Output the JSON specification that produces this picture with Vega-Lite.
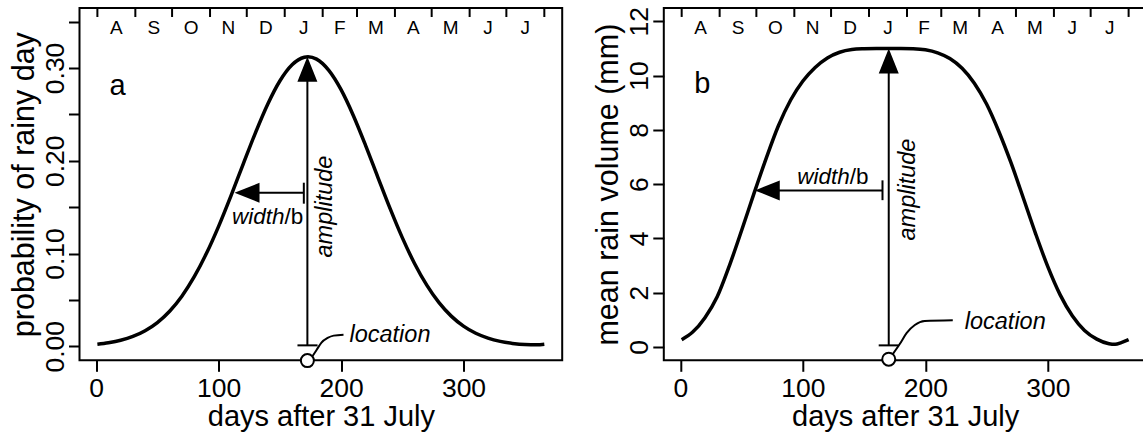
{
  "$schema": "https://vega.github.io/schema/vega-lite/v6.json",
  "padding": {"left": 8.5, "top": 5, "right": 0, "bottom": 0},
  "background": "white",
  "spacing": 101.3,
  "bounds": "flush",
  "datasets": {
    "curveA": [
      {"day": 1, "p": 0.0023}, {"day": 10, "p": 0.0039}, {"day": 20, "p": 0.0065}, {"day": 30, "p": 0.0106},
      {"day": 40, "p": 0.0168}, {"day": 50, "p": 0.0256}, {"day": 60, "p": 0.0378}, {"day": 70, "p": 0.054},
      {"day": 80, "p": 0.0747}, {"day": 90, "p": 0.0999}, {"day": 100, "p": 0.1293}, {"day": 110, "p": 0.1619},
      {"day": 120, "p": 0.1961}, {"day": 130, "p": 0.2298}, {"day": 140, "p": 0.2606}, {"day": 150, "p": 0.2859},
      {"day": 160, "p": 0.3034}, {"day": 170, "p": 0.3115}, {"day": 173, "p": 0.312}, {"day": 180, "p": 0.3095},
      {"day": 190, "p": 0.2974}, {"day": 200, "p": 0.2766}, {"day": 210, "p": 0.2488}, {"day": 220, "p": 0.2166},
      {"day": 230, "p": 0.1824}, {"day": 240, "p": 0.1486}, {"day": 250, "p": 0.1171}, {"day": 260, "p": 0.0893},
      {"day": 270, "p": 0.0659}, {"day": 280, "p": 0.047}, {"day": 290, "p": 0.0325}, {"day": 300, "p": 0.0217},
      {"day": 310, "p": 0.014}, {"day": 320, "p": 0.0088}, {"day": 330, "p": 0.0053}, {"day": 340, "p": 0.0031},
      {"day": 350, "p": 0.0019}, {"day": 360, "p": 0.0017}, {"day": 366, "p": 0.0023}
    ],
    "curveB": [
      {"day": 1, "v": 0.27}, {"day": 10, "v": 0.55}, {"day": 20, "v": 1.08}, {"day": 30, "v": 1.85},
      {"day": 40, "v": 3.0}, {"day": 50, "v": 4.3}, {"day": 60, "v": 5.65}, {"day": 70, "v": 6.95},
      {"day": 80, "v": 8.15}, {"day": 90, "v": 9.1}, {"day": 100, "v": 9.8}, {"day": 110, "v": 10.3},
      {"day": 120, "v": 10.65}, {"day": 130, "v": 10.86}, {"day": 140, "v": 10.96}, {"day": 150, "v": 10.99},
      {"day": 160, "v": 11.0}, {"day": 171, "v": 11.0}, {"day": 180, "v": 11.0}, {"day": 190, "v": 10.99},
      {"day": 200, "v": 10.95}, {"day": 210, "v": 10.84}, {"day": 220, "v": 10.63}, {"day": 230, "v": 10.27},
      {"day": 240, "v": 9.72}, {"day": 250, "v": 8.95}, {"day": 260, "v": 7.94}, {"day": 270, "v": 6.78},
      {"day": 280, "v": 5.49}, {"day": 290, "v": 4.18}, {"day": 300, "v": 2.96}, {"day": 310, "v": 1.93},
      {"day": 320, "v": 1.15}, {"day": 330, "v": 0.61}, {"day": 340, "v": 0.29}, {"day": 350, "v": 0.12},
      {"day": 355, "v": 0.1}, {"day": 360, "v": 0.16}, {"day": 366, "v": 0.27}
    ],
    "monthTicks": [
      {"day": 1}, {"day": 32}, {"day": 62}, {"day": 93}, {"day": 123}, {"day": 154}, {"day": 185},
      {"day": 213}, {"day": 244}, {"day": 274}, {"day": 305}, {"day": 335}, {"day": 366}
    ],
    "months": [
      {"m": "A", "day": 16.5}, {"m": "S", "day": 47}, {"m": "O", "day": 77.5}, {"m": "N", "day": 108},
      {"m": "D", "day": 138.5}, {"m": "J", "day": 169.5}, {"m": "F", "day": 199}, {"m": "M", "day": 228.5},
      {"m": "A", "day": 259}, {"m": "M", "day": 289.5}, {"m": "J", "day": 320}, {"m": "J", "day": 350.5}
    ],
    "leaderA": [
      {"day": 176.5, "v": -0.011}, {"day": 180, "v": -0.004}, {"day": 184, "v": 0.004},
      {"day": 189, "v": 0.009}, {"day": 194, "v": 0.0115}, {"day": 202, "v": 0.0125}
    ],
    "leaderB": [
      {"day": 173.4, "v": -0.26}, {"day": 179.1, "v": 0.11}, {"day": 184.8, "v": 0.52},
      {"day": 191.4, "v": 0.81}, {"day": 199.5, "v": 0.96}, {"day": 222.4, "v": 0.99}
    ],
    "one": [{}]
  },
  "hconcat": [
    {
      "width": 482.7,
      "height": 352.3,
      "layer": [
        {
          "data": {"name": "curveA"},
          "mark": {"type": "line", "color": "black", "strokeWidth": 3.5, "interpolate": "monotone"},
          "encoding": {
            "x": {"field": "day", "type": "quantitative", "scale": {"domain": [-13.6, 380.6], "nice": false, "zero": false},
                  "axis": {"values": [0, 100, 200, 300], "title": "days after 31 July"}},
            "y": {"field": "p", "type": "quantitative", "scale": {"domain": [-0.0151, 0.3646], "nice": false, "zero": false},
                  "axis": {"values": [0, 0.05, 0.1, 0.15, 0.2, 0.25, 0.3, 0.35],
                           "labelExpr": "round(datum.value*100) % 10 == 0 ? format(datum.value, '.2f') : ''",
                           "title": "probability of rainy day"}}
          }
        },
        {
          "data": {"name": "monthTicks"},
          "mark": {"type": "rule", "color": "black", "strokeWidth": 2},
          "encoding": {
            "x": {"field": "day", "type": "quantitative"},
            "y": {"datum": 0.3646, "type": "quantitative"},
            "y2": {"datum": 0.3549}
          }
        },
        {
          "data": {"name": "months"},
          "mark": {"type": "text", "fontSize": 19, "baseline": "alphabetic", "align": "center"},
          "encoding": {
            "x": {"field": "day", "type": "quantitative"},
            "y": {"datum": 0.3362, "type": "quantitative"},
            "text": {"field": "m"}
          }
        },
        {
          "data": {"name": "one"},
          "mark": {"type": "text", "fontSize": 29, "baseline": "alphabetic", "align": "center", "text": "a"},
          "encoding": {"x": {"datum": 17.4, "type": "quantitative"}, "y": {"datum": 0.2705, "type": "quantitative"}}
        },
        {
          "data": {"name": "one"},
          "mark": {"type": "rule", "color": "black", "strokeWidth": 2},
          "encoding": {"x": {"datum": 172.5, "type": "quantitative"}, "y": {"datum": 0.001, "type": "quantitative"}, "y2": {"datum": 0.29}}
        },
        {
          "data": {"name": "one"},
          "mark": {"type": "rule", "color": "black", "strokeWidth": 2},
          "encoding": {"x": {"datum": 164.4, "type": "quantitative"}, "x2": {"datum": 180.8}, "y": {"datum": 0.001, "type": "quantitative"}}
        },
        {
          "data": {"name": "one"},
          "mark": {"type": "rule", "color": "black", "strokeWidth": 2},
          "encoding": {"x": {"datum": 125, "type": "quantitative"}, "x2": {"datum": 169.6}, "y": {"datum": 0.1655, "type": "quantitative"}}
        },
        {
          "data": {"name": "one"},
          "mark": {"type": "rule", "color": "black", "strokeWidth": 2},
          "encoding": {"x": {"datum": 169.6, "type": "quantitative"}, "y": {"datum": 0.1537, "type": "quantitative"}, "y2": {"datum": 0.1763}}
        },
        {
          "data": {"name": "one"},
          "mark": {"type": "point", "shape": "M0,0L0.4,1L-0.4,1Z", "size": 2500, "filled": true, "color": "black", "opacity": 1, "strokeWidth": 0},
          "encoding": {"x": {"datum": 172.5, "type": "quantitative"}, "y": {"datum": 0.312, "type": "quantitative"}}
        },
        {
          "data": {"name": "one"},
          "mark": {"type": "point", "shape": "M0,0L1,-0.4L1,0.4Z", "size": 2500, "filled": true, "color": "black", "opacity": 1, "strokeWidth": 0},
          "encoding": {"x": {"datum": 113, "type": "quantitative"}, "y": {"datum": 0.1655, "type": "quantitative"}}
        },
        {
          "data": {"name": "one"},
          "mark": {"type": "text", "fontSize": 23.5, "fontStyle": "italic", "angle": 270, "align": "center", "baseline": "alphabetic", "text": "amplitude"},
          "encoding": {"x": {"datum": 193, "type": "quantitative"}, "y": {"datum": 0.1506, "type": "quantitative"}}
        },
        {
          "data": {"name": "one"},
          "mark": {"type": "text", "fontSize": 22.5, "fontStyle": "italic", "align": "right", "baseline": "alphabetic", "text": "width"},
          "encoding": {"x": {"datum": 153.8, "type": "quantitative"}, "y": {"datum": 0.132, "type": "quantitative"}}
        },
        {
          "data": {"name": "one"},
          "mark": {"type": "text", "fontSize": 22.5, "align": "left", "baseline": "alphabetic", "text": "/b"},
          "encoding": {"x": {"datum": 153.8, "type": "quantitative"}, "y": {"datum": 0.132, "type": "quantitative"}}
        },
        {
          "data": {"name": "one"},
          "mark": {"type": "text", "fontSize": 23.5, "fontStyle": "italic", "align": "left", "baseline": "alphabetic", "text": "location"},
          "encoding": {"x": {"datum": 206.9, "type": "quantitative"}, "y": {"datum": 0.0047, "type": "quantitative"}}
        },
        {
          "data": {"name": "leaderA"},
          "mark": {"type": "line", "color": "black", "strokeWidth": 2, "interpolate": "monotone"},
          "encoding": {"x": {"field": "day", "type": "quantitative"}, "y": {"field": "v", "type": "quantitative"}}
        },
        {
          "data": {"name": "one"},
          "mark": {"type": "point", "shape": "circle", "size": 170, "filled": true, "fill": "white", "stroke": "black", "strokeWidth": 2, "opacity": 1},
          "encoding": {"x": {"datum": 172.5, "type": "quantitative"}, "y": {"datum": -0.0154, "type": "quantitative"}}
        }
      ]
    },
    {
      "width": 482.7,
      "height": 352.3,
      "layer": [
        {
          "data": {"name": "curveB"},
          "mark": {"type": "line", "color": "black", "strokeWidth": 3.5, "interpolate": "monotone"},
          "encoding": {
            "x": {"field": "day", "type": "quantitative", "scale": {"domain": [-13.6, 380.6], "nice": false, "zero": false},
                  "axis": {"values": [0, 100, 200, 300], "title": "days after 31 July"}},
            "y": {"field": "v", "type": "quantitative", "scale": {"domain": [-0.49, 12.49], "nice": false, "zero": false},
                  "axis": {"values": [0, 2, 4, 6, 8, 10, 12], "title": "mean rain volume (mm)"}}
          }
        },
        {
          "data": {"name": "monthTicks"},
          "mark": {"type": "rule", "color": "black", "strokeWidth": 2},
          "encoding": {
            "x": {"field": "day", "type": "quantitative"},
            "y": {"datum": 12.49, "type": "quantitative"},
            "y2": {"datum": 12.16}
          }
        },
        {
          "data": {"name": "months"},
          "mark": {"type": "text", "fontSize": 19, "baseline": "alphabetic", "align": "center"},
          "encoding": {
            "x": {"field": "day", "type": "quantitative"},
            "y": {"datum": 11.52, "type": "quantitative"},
            "text": {"field": "m"}
          }
        },
        {
          "data": {"name": "one"},
          "mark": {"type": "text", "fontSize": 29, "baseline": "alphabetic", "align": "center", "text": "b"},
          "encoding": {"x": {"datum": 17.8, "type": "quantitative"}, "y": {"datum": 9.37, "type": "quantitative"}}
        },
        {
          "data": {"name": "one"},
          "mark": {"type": "rule", "color": "black", "strokeWidth": 2},
          "encoding": {"x": {"datum": 170.1, "type": "quantitative"}, "y": {"datum": 0.06, "type": "quantitative"}, "y2": {"datum": 10.2}}
        },
        {
          "data": {"name": "one"},
          "mark": {"type": "rule", "color": "black", "strokeWidth": 2},
          "encoding": {"x": {"datum": 161.9, "type": "quantitative"}, "x2": {"datum": 178.2}, "y": {"datum": 0.06, "type": "quantitative"}}
        },
        {
          "data": {"name": "one"},
          "mark": {"type": "rule", "color": "black", "strokeWidth": 2},
          "encoding": {"x": {"datum": 75, "type": "quantitative"}, "x2": {"datum": 165}, "y": {"datum": 5.77, "type": "quantitative"}}
        },
        {
          "data": {"name": "one"},
          "mark": {"type": "rule", "color": "black", "strokeWidth": 2},
          "encoding": {"x": {"datum": 165, "type": "quantitative"}, "y": {"datum": 5.41, "type": "quantitative"}, "y2": {"datum": 6.14}}
        },
        {
          "data": {"name": "one"},
          "mark": {"type": "point", "shape": "M0,0L0.4,1L-0.4,1Z", "size": 2500, "filled": true, "color": "black", "opacity": 1, "strokeWidth": 0},
          "encoding": {"x": {"datum": 170.1, "type": "quantitative"}, "y": {"datum": 11.0, "type": "quantitative"}}
        },
        {
          "data": {"name": "one"},
          "mark": {"type": "point", "shape": "M0,0L1,-0.4L1,0.4Z", "size": 2500, "filled": true, "color": "black", "opacity": 1, "strokeWidth": 0},
          "encoding": {"x": {"datum": 60.7, "type": "quantitative"}, "y": {"datum": 5.77, "type": "quantitative"}}
        },
        {
          "data": {"name": "one"},
          "mark": {"type": "text", "fontSize": 23.5, "fontStyle": "italic", "angle": 270, "align": "center", "baseline": "alphabetic", "text": "amplitude"},
          "encoding": {"x": {"datum": 191.4, "type": "quantitative"}, "y": {"datum": 5.8, "type": "quantitative"}}
        },
        {
          "data": {"name": "one"},
          "mark": {"type": "text", "fontSize": 22.5, "fontStyle": "italic", "align": "right", "baseline": "alphabetic", "text": "width"},
          "encoding": {"x": {"datum": 138.3, "type": "quantitative"}, "y": {"datum": 6.02, "type": "quantitative"}}
        },
        {
          "data": {"name": "one"},
          "mark": {"type": "text", "fontSize": 22.5, "align": "left", "baseline": "alphabetic", "text": "/b"},
          "encoding": {"x": {"datum": 138.3, "type": "quantitative"}, "y": {"datum": 6.02, "type": "quantitative"}}
        },
        {
          "data": {"name": "one"},
          "mark": {"type": "text", "fontSize": 23.5, "fontStyle": "italic", "align": "left", "baseline": "alphabetic", "text": "location"},
          "encoding": {"x": {"datum": 232.2, "type": "quantitative"}, "y": {"datum": 0.66, "type": "quantitative"}}
        },
        {
          "data": {"name": "leaderB"},
          "mark": {"type": "line", "color": "black", "strokeWidth": 2, "interpolate": "monotone"},
          "encoding": {"x": {"field": "day", "type": "quantitative"}, "y": {"field": "v", "type": "quantitative"}}
        },
        {
          "data": {"name": "one"},
          "mark": {"type": "point", "shape": "circle", "size": 170, "filled": true, "fill": "white", "stroke": "black", "strokeWidth": 2, "opacity": 1},
          "encoding": {"x": {"datum": 170.1, "type": "quantitative"}, "y": {"datum": -0.45, "type": "quantitative"}}
        }
      ]
    }
  ],
  "config": {
    "view": {"stroke": "black", "strokeWidth": 2},
    "font": "Liberation Sans",
    "axis": {
      "labelFont": "Liberation Sans", "titleFont": "Liberation Sans",
      "labelFontSize": 26.5, "titleFontSize": 29, "titleFontWeight": "normal",
      "labelColor": "black", "titleColor": "black", "tickColor": "black",
      "tickWidth": 2, "tickSize": 11, "domain": false, "grid": false,
      "labelOverlap": false, "labelFlush": false
    },
    "axisY": {"labelAngle": 270, "labelAlign": "center", "labelBaseline": "alphabetic", "labelPadding": 5, "titlePadding": 3, "titleFontSize": 30.5},
    "axisX": {"labelPadding": 4, "titlePadding": 1},
    "text": {"font": "Liberation Sans", "color": "black"}
  }
}
